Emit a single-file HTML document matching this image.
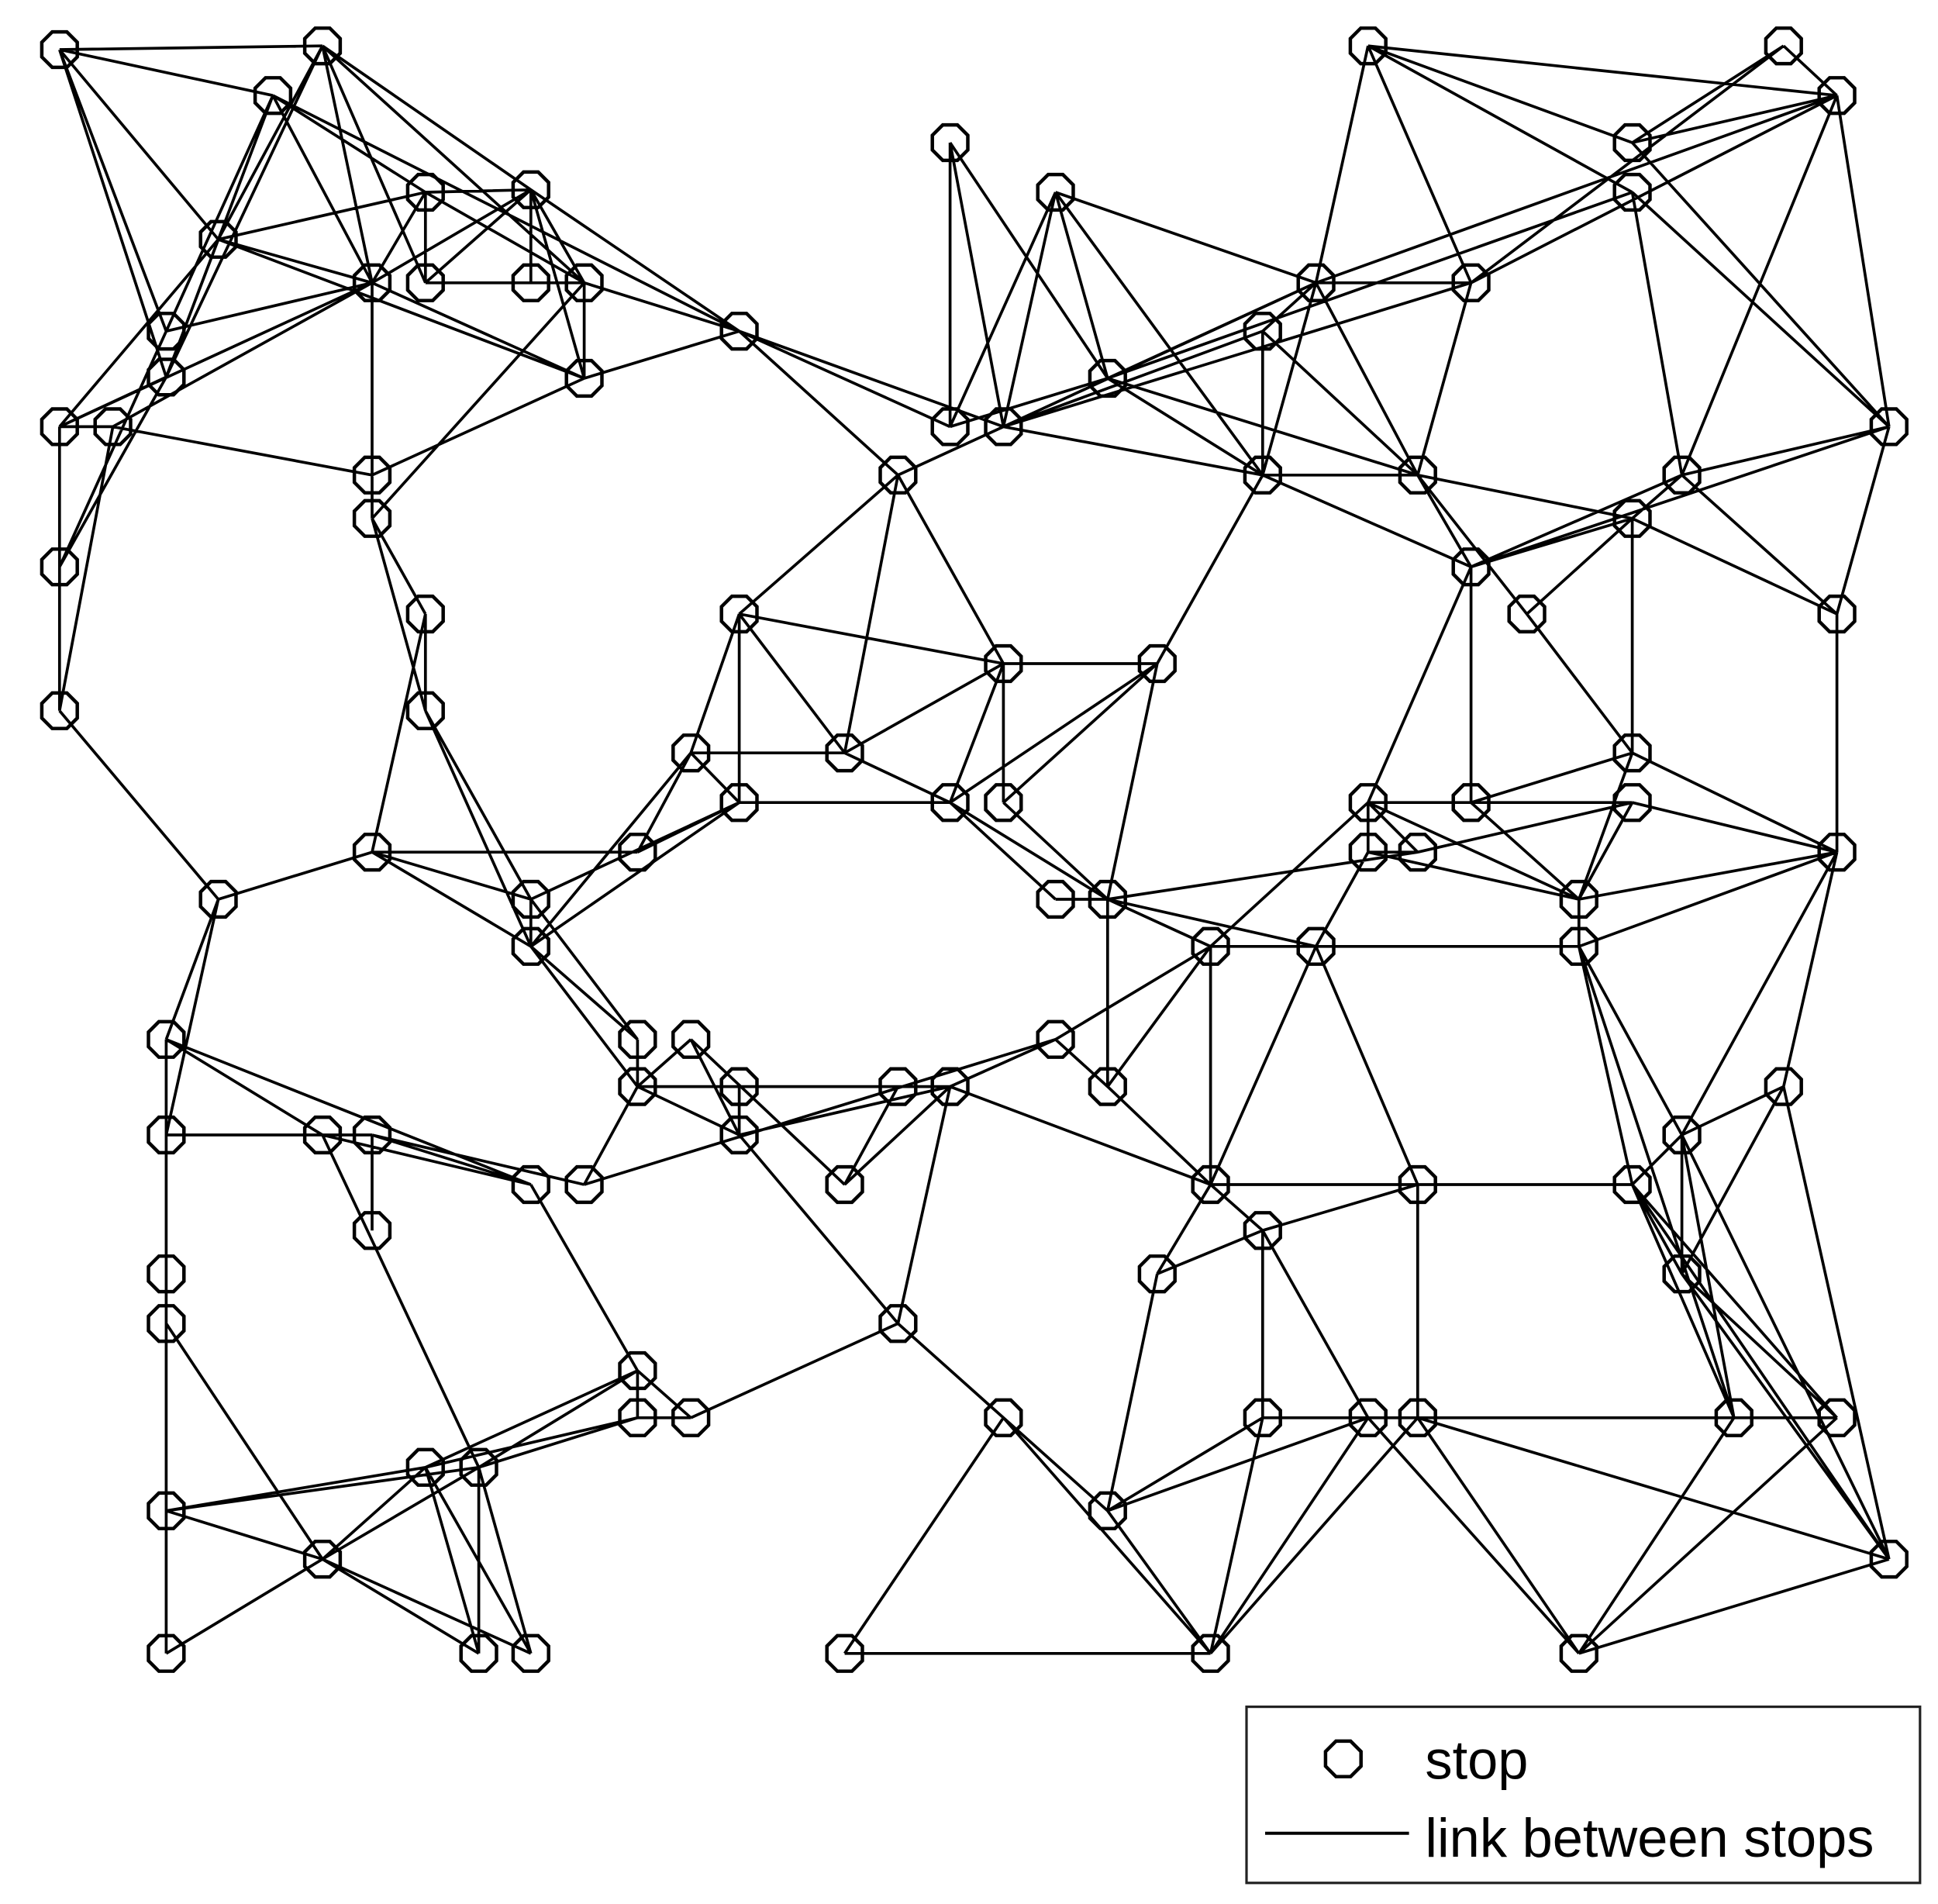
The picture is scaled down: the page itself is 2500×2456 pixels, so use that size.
<!DOCTYPE html>
<html><head><meta charset="utf-8"><style>
html,body{margin:0;padding:0;background:#fff;}
svg{display:block;}
</style></head><body>
<svg id="s" xmlns="http://www.w3.org/2000/svg" width="2500" height="2456" viewBox="0 0 1562.5 1535">
<defs>
<polygon id="o" points="14.3,5.9 5.9,14.3 -5.9,14.3 -14.3,5.9 -14.3,-5.9 -5.9,-14.3 5.9,-14.3 14.3,-5.9" fill="none" stroke="#000" stroke-width="2.8"/>
</defs>
<g id="edges" stroke="#000" stroke-width="2.3" fill="none"></g>
<g id="nodes"></g>
<rect x="1005" y="1376" width="543" height="142" fill="#fff" stroke="#222" stroke-width="2"/>
<use href="#o" x="1083" y="1418"/>
<text x="1149" y="1434" font-family="Liberation Sans, sans-serif" font-size="44">stop</text>
<line x1="1020" y1="1478" x2="1136" y2="1478" stroke="#000" stroke-width="2.5"/>
<text x="1149" y="1497" font-family="Liberation Sans, sans-serif" font-size="44">link between stops</text>
</svg>
<script>
var N={
A1:[48,40],A2:[260,37],A3:[220,77],A4:[343,155],A5:[428,153],A6:[176,193],A7:[300,228],A8:[343,228],A9:[428,228],A10:[471,228],
A11:[134,267],A12:[134,304],A13:[471,305],A14:[48,344],A15:[91,344],A16:[596,267],A17:[300,383],A18:[300,418],A19:[48,457],A20:[343,495],
A21:[48,573],A22:[343,573],A23:[176,725],A24:[300,687],A25:[514,687],A26:[428,725],A27:[428,763],
B1:[766,115],B2:[851,155],B3:[893,305],B4:[766,344],B5:[809,344],B6:[724,383],B7:[596,495],B8:[809,535],B9:[933,535],B10:[557,607],
B11:[681,607],B12:[596,647],B13:[766,647],B14:[809,647],B15:[851,725],B16:[893,725],
C1:[1103,37],C2:[1438,37],C3:[1481,77],C4:[1316,115],C5:[1316,155],C6:[1061,228],C7:[1186,228],C8:[1018,267],C9:[1523,344],C10:[1018,383],
C11:[1143,383],C12:[1356,383],C13:[1316,418],C14:[1186,457],C15:[1231,495],C16:[1481,495],C17:[1316,607],C18:[1103,647],C19:[1186,647],C20:[1316,647],
C21:[1103,687],C22:[1143,687],C23:[1481,687],C24:[1273,725],C25:[976,763],C26:[1061,763],C27:[1273,763],
D1:[134,838],D2:[134,915],D3:[260,915],D4:[300,915],D5:[428,955],D6:[471,955],D7:[300,992],D8:[134,1027],D9:[134,1067],D10:[514,838],
D11:[557,838],D12:[514,876],D13:[596,876],D14:[596,915],D15:[724,876],D16:[766,876],D17:[851,838],D18:[893,876],D19:[681,955],D20:[514,1105],
D21:[514,1143],D22:[557,1143],D23:[343,1183],D24:[386,1183],D25:[134,1218],D26:[260,1257],D27:[134,1333],D28:[386,1333],D29:[428,1333],D30:[724,1067],
D31:[809,1143],D32:[681,1333],
E1:[976,955],E2:[1143,955],E3:[1316,955],E4:[1018,992],E5:[933,1027],E6:[1438,876],E7:[1356,915],E8:[1356,1027],E9:[1018,1143],E10:[1103,1143],
E11:[1143,1143],E12:[1398,1143],E13:[1481,1143],E14:[893,1218],E15:[976,1333],E16:[1273,1333],E17:[1523,1257]
};
var E="A1-A2 A1-A3 A1-A6 A1-A11 A1-A12 A2-A6 A2-A12 A2-A7 A2-A5 A2-A10 A2-A8 A3-A11 A3-A12 A3-A7 A3-A4 A3-A16 A6-A4 A6-A7 A6-A13 A6-A14 A6-A12 A7-A4 A7-A5 A7-A11 A7-A14 A7-A15 A7-A17 A7-A13 A4-A8 A4-A5 A4-A10 A5-A9 A5-A13 A5-A10 A5-A8 A5-A16 A8-A9 A9-A10 A10-A13 A10-A16 A10-A18 A13-A16 A13-A17 A14-A15 A14-A19 A19-A21 A15-A21 A15-A17 A11-A19 A12-A19 A12-A14 A17-A18 A18-A20 A18-A22 A20-A22 A20-A24 A22-A26 A22-A27 A24-A25 A24-A26 A24-A27 A23-A24 A21-A23 A25-B10 A25-B12 A26-B12 A27-B10 A27-B12 A26-A27 "+
"B7-B10 B7-B12 B7-B11 B7-B6 B7-B8 B10-B11 B10-B12 B11-B6 B11-B8 B11-B13 B12-B13 B6-A16 B6-B5 B6-B8 A16-B4 A16-B5 B1-B4 B1-B5 B1-B3 B2-B4 B2-B5 B2-B3 B2-C6 B2-C10 B3-C10 B3-C11 B3-B4 B3-C6 B3-C5 B5-C10 B5-C7 B5-C6 B8-B13 B8-B14 B8-B9 B9-B16 B9-B13 B9-B14 B13-B16 B14-B16 B16-C22 B16-C25 B16-C26 B16-D18 B15-B16 B13-B15 "+
"C1-C3 C1-C4 C1-C5 C1-C6 C1-C7 C2-C4 C2-C3 C2-C7 C3-C4 C3-C6 C3-C7 C3-C9 C4-C9 C5-C12 C5-C9 C12-C3 C12-C9 C12-C13 C12-C14 C12-C16 C9-C16 C9-C14 C16-C23 C6-C7 C6-C10 C6-C11 C7-C11 C8-C10 C8-C11 C8-B5 C8-C6 C10-C11 C10-C14 C10-B9 C11-C13 C11-C14 C11-C15 C13-C14 C13-C15 C13-C17 C13-C16 C14-C18 C14-C19 C15-C17 C17-C19 C17-C23 C17-C24 C18-C19 C19-C20 C18-C21 C18-C24 C18-C22 C18-C25 C19-C24 C21-C22 C21-C26 C22-C20 C20-C23 C20-C24 C23-C24 C23-C27 C24-C27 C25-C26 C26-C27 C21-C24 C23-E7 C23-E6 "+
"D1-D27 D1-A23 D2-A23 D1-D3 D1-D5 D2-D3 D3-D5 D4-D5 D4-D6 D3-D4 D4-D7 D3-D24 D9-D26 D25-D23 D25-D24 D25-D26 D26-D27 D26-D23 D26-D24 D26-D28 D26-D29 D23-D20 D23-D21 D23-D28 D23-D29 D24-D20 D24-D21 D24-D28 D24-D29 D20-D21 D20-D22 D21-D22 D22-D30 D5-D20 D6-D12 D6-D17 D12-D10 D12-D11 D12-D15 D12-D14 D12-A27 D10-A27 D10-A26 D11-D19 D11-D14 D13-D14 D14-D16 D14-D30 D19-D15 D19-D16 D30-D31 D32-D31 D32-E15 D15-D16 D16-D17 D16-E1 D16-D30 D17-D18 D18-C25 D18-E1 D17-C25 "+
"C25-E1 C26-E1 C26-E2 C27-E3 C27-E7 C27-E12 E1-E2 E2-E3 E1-E5 E4-E5 E4-E2 E4-E9 E4-E10 E1-E4 E2-E11 E3-E8 E3-E7 E3-E17 E3-E13 E3-E12 E6-E7 E6-E8 E6-E17 E7-E12 E7-E17 E7-E8 E8-E17 E8-E13 E9-E13 E9-E14 E9-E15 E10-E14 E10-E15 E11-E15 E11-E16 E11-E17 E10-E16 E12-E16 E13-E16 E16-E17 E5-E14 D31-E14 D31-E15 E14-E15";
var d="";
E.split(/\s+/).forEach(function(p){var a=p.split("-");var u=N[a[0]],v=N[a[1]];if(u&&v)d+="M"+u[0]+" "+u[1]+"L"+v[0]+" "+v[1];});
var ns="http://www.w3.org/2000/svg";
var path=document.createElementNS(ns,"path");path.setAttribute("d",d);document.getElementById("edges").appendChild(path);
var g=document.getElementById("nodes");
for(var k in N){var u=document.createElementNS(ns,"use");u.setAttribute("href","#o");u.setAttribute("x",N[k][0]);u.setAttribute("y",N[k][1]);g.appendChild(u);}
</script>
</body></html>
